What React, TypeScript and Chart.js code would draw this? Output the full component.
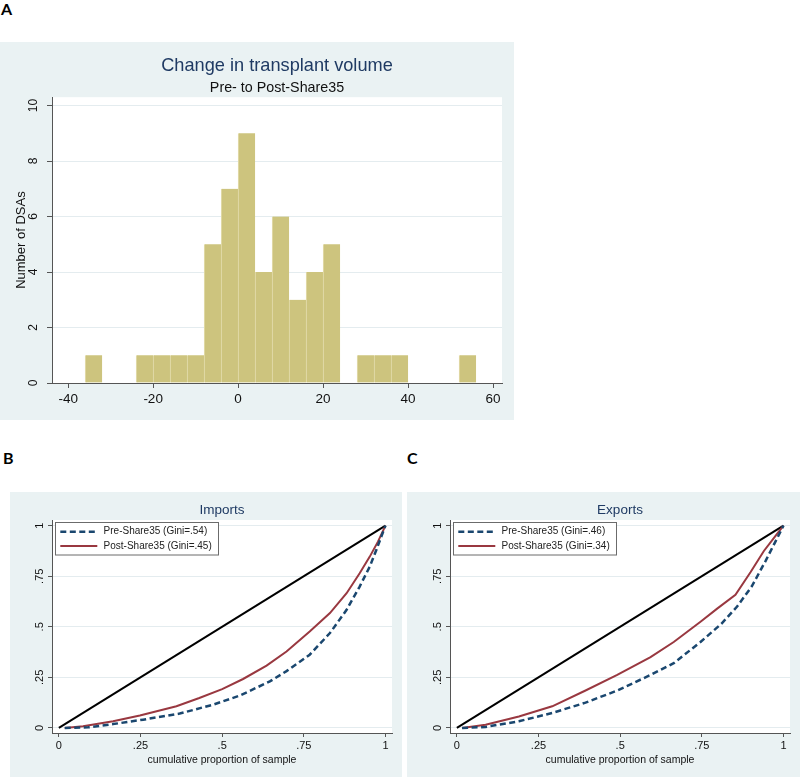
import React, { useEffect, useRef } from "react";
import { Chart, registerables } from "chart.js";
Chart.register(...registerables);

// ---------- Panel A data ----------
const binStarts = [-36, -32, -28, -24, -20, -16, -12, -8, -4, 0, 4, 8, 12, 16, 20, 24, 28, 32, 36, 40, 44, 48, 52];
const binCounts = [1, 0, 0, 1, 1, 1, 1, 5, 7, 9, 4, 6, 3, 4, 5, 0, 1, 1, 1, 0, 0, 0, 1];
const binWidth = 4;
const histXTicks = [-40, -20, 0, 20, 40, 60];
const histYTicks = [0, 2, 4, 6, 8, 10];
const histTitle = "Change in transplant volume";
const histSubtitle = "Pre- to Post-Share35";
const histYLabel = "Number of DSAs";

// ---------- Panel B data (Imports) ----------
const importsPreX = [0.018, 0.09, 0.166, 0.258, 0.37, 0.472, 0.554, 0.646, 0.697, 0.768, 0.83, 0.881, 0.921, 0.952, 0.972, 1];
const importsPreY = [0, 0.003, 0.019, 0.041, 0.071, 0.115, 0.16, 0.23, 0.281, 0.362, 0.469, 0.584, 0.699, 0.798, 0.88, 1];
const importsPostX = [0.018, 0.074, 0.166, 0.248, 0.36, 0.43, 0.5, 0.564, 0.636, 0.697, 0.768, 0.83, 0.881, 0.921, 0.952, 0.977, 1];
const importsPostY = [0, 0.008, 0.033, 0.062, 0.107, 0.148, 0.192, 0.242, 0.308, 0.378, 0.477, 0.568, 0.666, 0.765, 0.847, 0.921, 1];
const importsLabels = ["Pre-Share35 (Gini=.54)", "Post-Share35 (Gini=.45)"];
const importsTitle = "Imports";

// ---------- Panel C data (Exports) ----------
const exportsPreX = [0.016, 0.088, 0.19, 0.292, 0.394, 0.491, 0.593, 0.664, 0.746, 0.81, 0.858, 0.903, 0.945, 0.975, 1];
const exportsPreY = [0, 0.005, 0.033, 0.074, 0.125, 0.185, 0.262, 0.32, 0.425, 0.515, 0.6, 0.7, 0.825, 0.92, 1];
const exportsPostX = [0.016, 0.088, 0.19, 0.292, 0.394, 0.491, 0.593, 0.664, 0.746, 0.797, 0.853, 0.899, 0.94, 0.971, 1];
const exportsPostY = [0, 0.016, 0.057, 0.107, 0.185, 0.262, 0.35, 0.425, 0.525, 0.59, 0.658, 0.77, 0.875, 0.94, 1];
const exportsLabels = ["Pre-Share35 (Gini=.46)", "Post-Share35 (Gini=.34)"];
const exportsTitle = "Exports";

const equalityX = [0, 1];
const equalityY = [0, 1];
const lorenzTicks = [0, 0.25, 0.5, 0.75, 1];
const lorenzTickLabels = ["0", ".25", ".5", ".75", "1"];
const lorenzXLabel = "cumulative proportion of sample";

// ---------- styles ----------
const FONT = "'Liberation Sans', Arial, Helvetica, sans-serif";
const BG = "#eaf2f3";
const GRID = "#e4ecef";
const AXIS = "#555555";
const NAVY = "#1a476f";
const MAROON = "#993840";
const TITLE = "#1f3a63";
const BAR = "#cdc47e";
const BAR_EDGE = "#e4ddae";

const plotBg = {
  id: "plotBg",
  beforeDraw(chart: any) {
    const { ctx, chartArea: a } = chart;
    ctx.save();
    ctx.fillStyle = "#ffffff";
    ctx.fillRect(a.left, a.top, a.right - a.left, a.bottom - a.top);
    ctx.restore();
  },
};

const lorenzLegend = {
  id: "lorenzLegend",
  afterDatasetsDraw(chart: any, _args: any, opts: any) {
    if (!opts || !opts.items) return;
    const { ctx, chartArea } = chart;
    const x0 = chartArea.left + opts.dx;
    const y0 = chartArea.top + opts.dy;
    ctx.save();
    ctx.fillStyle = "#ffffff";
    ctx.fillRect(x0, y0, opts.w, opts.h);
    ctx.strokeStyle = "#6b6b6b";
    ctx.lineWidth = 1;
    ctx.strokeRect(Math.round(x0) + 0.5, Math.round(y0) + 0.5, opts.w, opts.h);
    opts.items.forEach((di: number, i: number) => {
      const ds = chart.data.datasets[di];
      const y = y0 + opts.rows[i];
      ctx.beginPath();
      ctx.setLineDash(ds.borderDash || []);
      ctx.strokeStyle = ds.borderColor;
      ctx.lineWidth = ds.borderWidth;
      ctx.moveTo(x0 + opts.lineX0, y);
      ctx.lineTo(x0 + opts.lineX1, y);
      ctx.stroke();
      ctx.setLineDash([]);
      ctx.fillStyle = "#222222";
      ctx.font = `${opts.fontSize}px ${FONT}`;
      ctx.textBaseline = "middle";
      ctx.textAlign = "left";
      ctx.fillText(ds.label, x0 + opts.textX, y);
    });
    ctx.restore();
  },
};

function zip(xs: number[], ys: number[]) {
  return xs.map((x, i) => ({ x, y: ys[i] }));
}

function histConfig(): any {
  return {
    type: "bar",
    data: {
      datasets: [
        {
          label: histYLabel,
          data: binStarts.map((s, i) => ({ x: s + binWidth / 2, y: binCounts[i] === 0 ? null : binCounts[i] })),
          backgroundColor: BAR,
          borderColor: BAR_EDGE,
          borderWidth: { left: 1, right: 0, top: 0, bottom: 0 },
          borderSkipped: false,
          barPercentage: 1,
          categoryPercentage: 1,
        },
      ],
    },
    plugins: [plotBg],
    options: {
      responsive: false,
      animation: false,
      devicePixelRatio: 1,
      events: [],
      layout: { padding: { left: 0, right: 12, top: 0, bottom: 0 } },
      plugins: {
        legend: { display: false },
        tooltip: { enabled: false },
        title: {
          display: true,
          text: histTitle,
          fullSize: false,
          color: TITLE,
          font: { family: FONT, size: 18.2, weight: "normal" },
          padding: { top: 12.7, bottom: 1.2 },
        },
        subtitle: {
          display: true,
          text: histSubtitle,
          fullSize: false,
          color: "#111111",
          font: { family: FONT, size: 14.3, weight: "normal" },
          padding: { top: 1.4, bottom: 0.9 },
        },
      },
      scales: {
        x: {
          type: "linear",
          min: -43.8,
          max: 62.1,
          offset: false,
          afterBuildTicks: (s: any) => {
            s.ticks = histXTicks.map((v) => ({ value: v }));
          },
          afterFit: (s: any) => {
            s.height = 37;
          },
          grid: { offset: false, drawOnChartArea: false, tickColor: AXIS, tickLength: 5 },
          border: { color: AXIS, width: 1 },
          ticks: {
            autoSkip: false,
            maxRotation: 0,
            padding: 3.5,
            color: "#111111",
            font: { family: FONT, size: 13.5 },
            callback: (v: any) => String(v),
          },
        },
        y: {
          type: "linear",
          min: 0,
          max: 10.3,
          afterBuildTicks: (s: any) => {
            s.ticks = histYTicks.map((v) => ({ value: v }));
          },
          afterFit: (s: any) => {
            s.width = 52;
          },
          grid: { color: GRID, tickColor: AXIS, tickLength: 5 },
          border: { color: AXIS, width: 1 },
          ticks: {
            minRotation: 90,
            maxRotation: 90,
            crossAlign: "center",
            padding: 7,
            color: "#111111",
            font: { family: FONT, size: 12 },
            callback: (v: any) => String(v),
          },
          title: {
            display: true,
            text: histYLabel,
            color: "#111111",
            font: { family: FONT, size: 13 },
            padding: { top: 13.2, bottom: 0 },
          },
        },
      },
    },
  };
}

function lorenzConfig(
  title: string,
  labels: string[],
  preX: number[],
  preY: number[],
  postX: number[],
  postY: number[],
  axisWidth: number
): any {
  return {
    type: "line",
    data: {
      datasets: [
        {
          label: labels[0],
          data: zip(preX, preY),
          borderColor: NAVY,
          borderWidth: 2.5,
          borderDash: [6, 3.5],
          pointRadius: 0,
          tension: 0,
          fill: false,
        },
        {
          label: labels[1],
          data: zip(postX, postY),
          borderColor: MAROON,
          borderWidth: 2,
          pointRadius: 0,
          tension: 0,
          fill: false,
        },
        {
          label: "Equality",
          data: zip(equalityX, equalityY),
          borderColor: "#000000",
          borderWidth: 2,
          pointRadius: 0,
          tension: 0,
          fill: false,
        },
      ],
    },
    plugins: [plotBg, lorenzLegend],
    options: {
      responsive: false,
      animation: false,
      devicePixelRatio: 1,
      events: [],
      layout: { padding: { left: 0, right: 10, top: 0, bottom: 0 } },
      plugins: {
        legend: { display: false },
        tooltip: { enabled: false },
        title: {
          display: true,
          text: title,
          fullSize: false,
          color: TITLE,
          font: { family: FONT, size: 13.5, weight: "normal" },
          padding: { top: 9.9, bottom: 1.9 },
        },
        lorenzLegend: {
          items: [0, 1],
          dx: 3.3,
          dy: 2.3,
          w: 163,
          h: 32.5,
          rows: [9.4, 23.7],
          lineX0: 5,
          lineX1: 42,
          textX: 48.3,
          fontSize: 10,
        },
      },
      scales: {
        x: {
          type: "linear",
          min: -0.021,
          max: 1.02,
          afterBuildTicks: (s: any) => {
            s.ticks = lorenzTicks.map((v) => ({ value: v }));
          },
          afterFit: (s: any) => {
            s.height = 44;
          },
          grid: { drawOnChartArea: false, tickColor: AXIS, tickLength: 4 },
          border: { color: AXIS, width: 1 },
          ticks: {
            autoSkip: false,
            maxRotation: 0,
            padding: 2,
            color: "#111111",
            font: { family: FONT, size: 11 },
            callback: (_v: any, i: number) => lorenzTickLabels[i],
          },
          title: {
            display: true,
            text: lorenzXLabel,
            color: "#111111",
            font: { family: FONT, size: 10.5 },
            padding: { top: 0, bottom: 10.7 },
          },
        },
        y: {
          type: "linear",
          min: -0.025,
          max: 1.028,
          afterBuildTicks: (s: any) => {
            s.ticks = lorenzTicks.map((v) => ({ value: v }));
          },
          afterFit: (s: any) => {
            s.width = axisWidth;
          },
          grid: { color: GRID, tickColor: AXIS, tickLength: 4 },
          border: { color: AXIS, width: 1 },
          ticks: {
            minRotation: 90,
            maxRotation: 90,
            crossAlign: "center",
            padding: 0.4,
            color: "#111111",
            font: { family: FONT, size: 11 },
            callback: (_v: any, i: number) => lorenzTickLabels[i],
          },
        },
      },
    },
  };
}

function ChartBox(props: { left: number; top: number; width: number; height: number; make: () => any }) {
  const ref = useRef<HTMLCanvasElement>(null);
  useEffect(() => {
    const chart = new Chart(ref.current as HTMLCanvasElement, props.make());
    return () => chart.destroy();
  }, []);
  return (
    <div
      style={{
        position: "absolute",
        left: props.left,
        top: props.top,
        width: props.width,
        height: props.height,
        background: BG,
      }}
    >
      <canvas
        ref={ref}
        width={props.width}
        height={props.height}
        style={{ display: "block", width: props.width, height: props.height }}
      />
    </div>
  );
}

const labelStyle: React.CSSProperties = {
  position: "absolute",
  fontFamily: "Lato, 'Open Sans', sans-serif",
  fontWeight: 700,
  fontSize: 16,
  lineHeight: "16px",
  color: "#000",
};

export default function App() {
  const makeB = () =>
    lorenzConfig(importsTitle, importsLabels, importsPreX, importsPreY, importsPostX, importsPostY, 42);
  const makeC = () =>
    lorenzConfig(exportsTitle, exportsLabels, exportsPreX, exportsPreY, exportsPostX, exportsPostY, 43);
  return (
    <div style={{ position: "absolute", left: 0, top: 0, width: 800, height: 778, background: "#fff", overflow: "hidden" }}>
      <div style={{ ...labelStyle, left: 1, top: 1 }}>A</div>
      <div style={{ ...labelStyle, left: 3, top: 450 }}>B</div>
      <div style={{ ...labelStyle, left: 407, top: 450 }}>C</div>
      <ChartBox left={0} top={42} width={514} height={378} make={histConfig} />
      <ChartBox left={10} top={492} width={392} height={285} make={makeB} />
      <ChartBox left={407} top={492} width={393} height={285} make={makeC} />
    </div>
  );
}
